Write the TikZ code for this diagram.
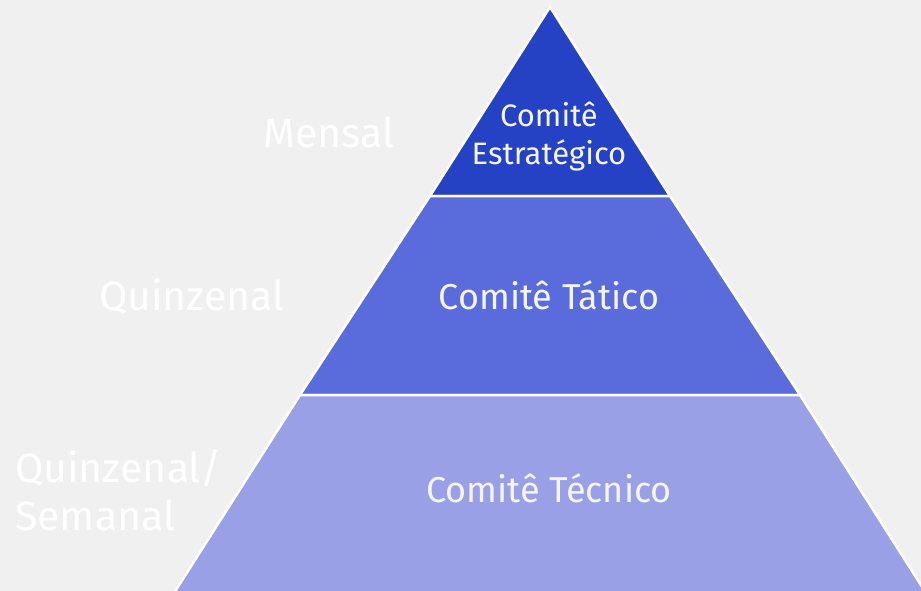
\documentclass[tikz,border=0pt]{standalone}
\usepackage{fontspec}
\setmainfont{Fira Sans}
\definecolor{bgc}{RGB}{240,240,240}
\definecolor{topc}{RGB}{37,65,196}
\definecolor{midc}{RGB}{90,107,220}
\definecolor{lowc}{RGB}{153,160,230}
\begin{document}
\begin{tikzpicture}[x=1pt,y=-1pt,line join=miter,
    tier/.style={draw=white,line width=2.5pt},
    tiertext/.style={text=white!96!blue,inner sep=0pt},
    freq/.style={text=white,inner sep=0pt,font=\fontsize{41}{48}\selectfont}]
  \fill[bgc] (0,0) rectangle (921,591);
  \useasboundingbox (0,0) rectangle (921,591);
  % the three levels
  \filldraw[tier,fill=topc] (550,7) -- (670,196) -- (430,196) -- cycle;
  \filldraw[tier,fill=midc] (430,196) -- (670,196) -- (800,395) -- (300,395) -- cycle;
  \filldraw[tier,fill=lowc] (300,395) -- (800,395) -- (926,593) -- (174,593) -- cycle;
  % committees
  \node[tiertext,font=\fontsize{31}{38}\selectfont,align=center] (strat)
    at (549,137) {Comitê\\Estratégico};
  \node[tiertext,font=\fontsize{36}{38}\selectfont,anchor=base] (tat)
    at (549,309) {Comitê Tático};
  \node[tiertext,font=\fontsize{36}{38}\selectfont,anchor=base] (tec)
    at (549,502) {Comitê Técnico};
  % meeting frequency
  \node[freq,anchor=base] (mensal) at (329,148) {Mensal};
  \node[freq,anchor=base] (quinz) at (192,310) {Quinzenal};
  \node[freq,align=left,anchor=west] (quinzsem) at (15,490) {Quinzenal/\\Semanal};
\end{tikzpicture}
\end{document}
